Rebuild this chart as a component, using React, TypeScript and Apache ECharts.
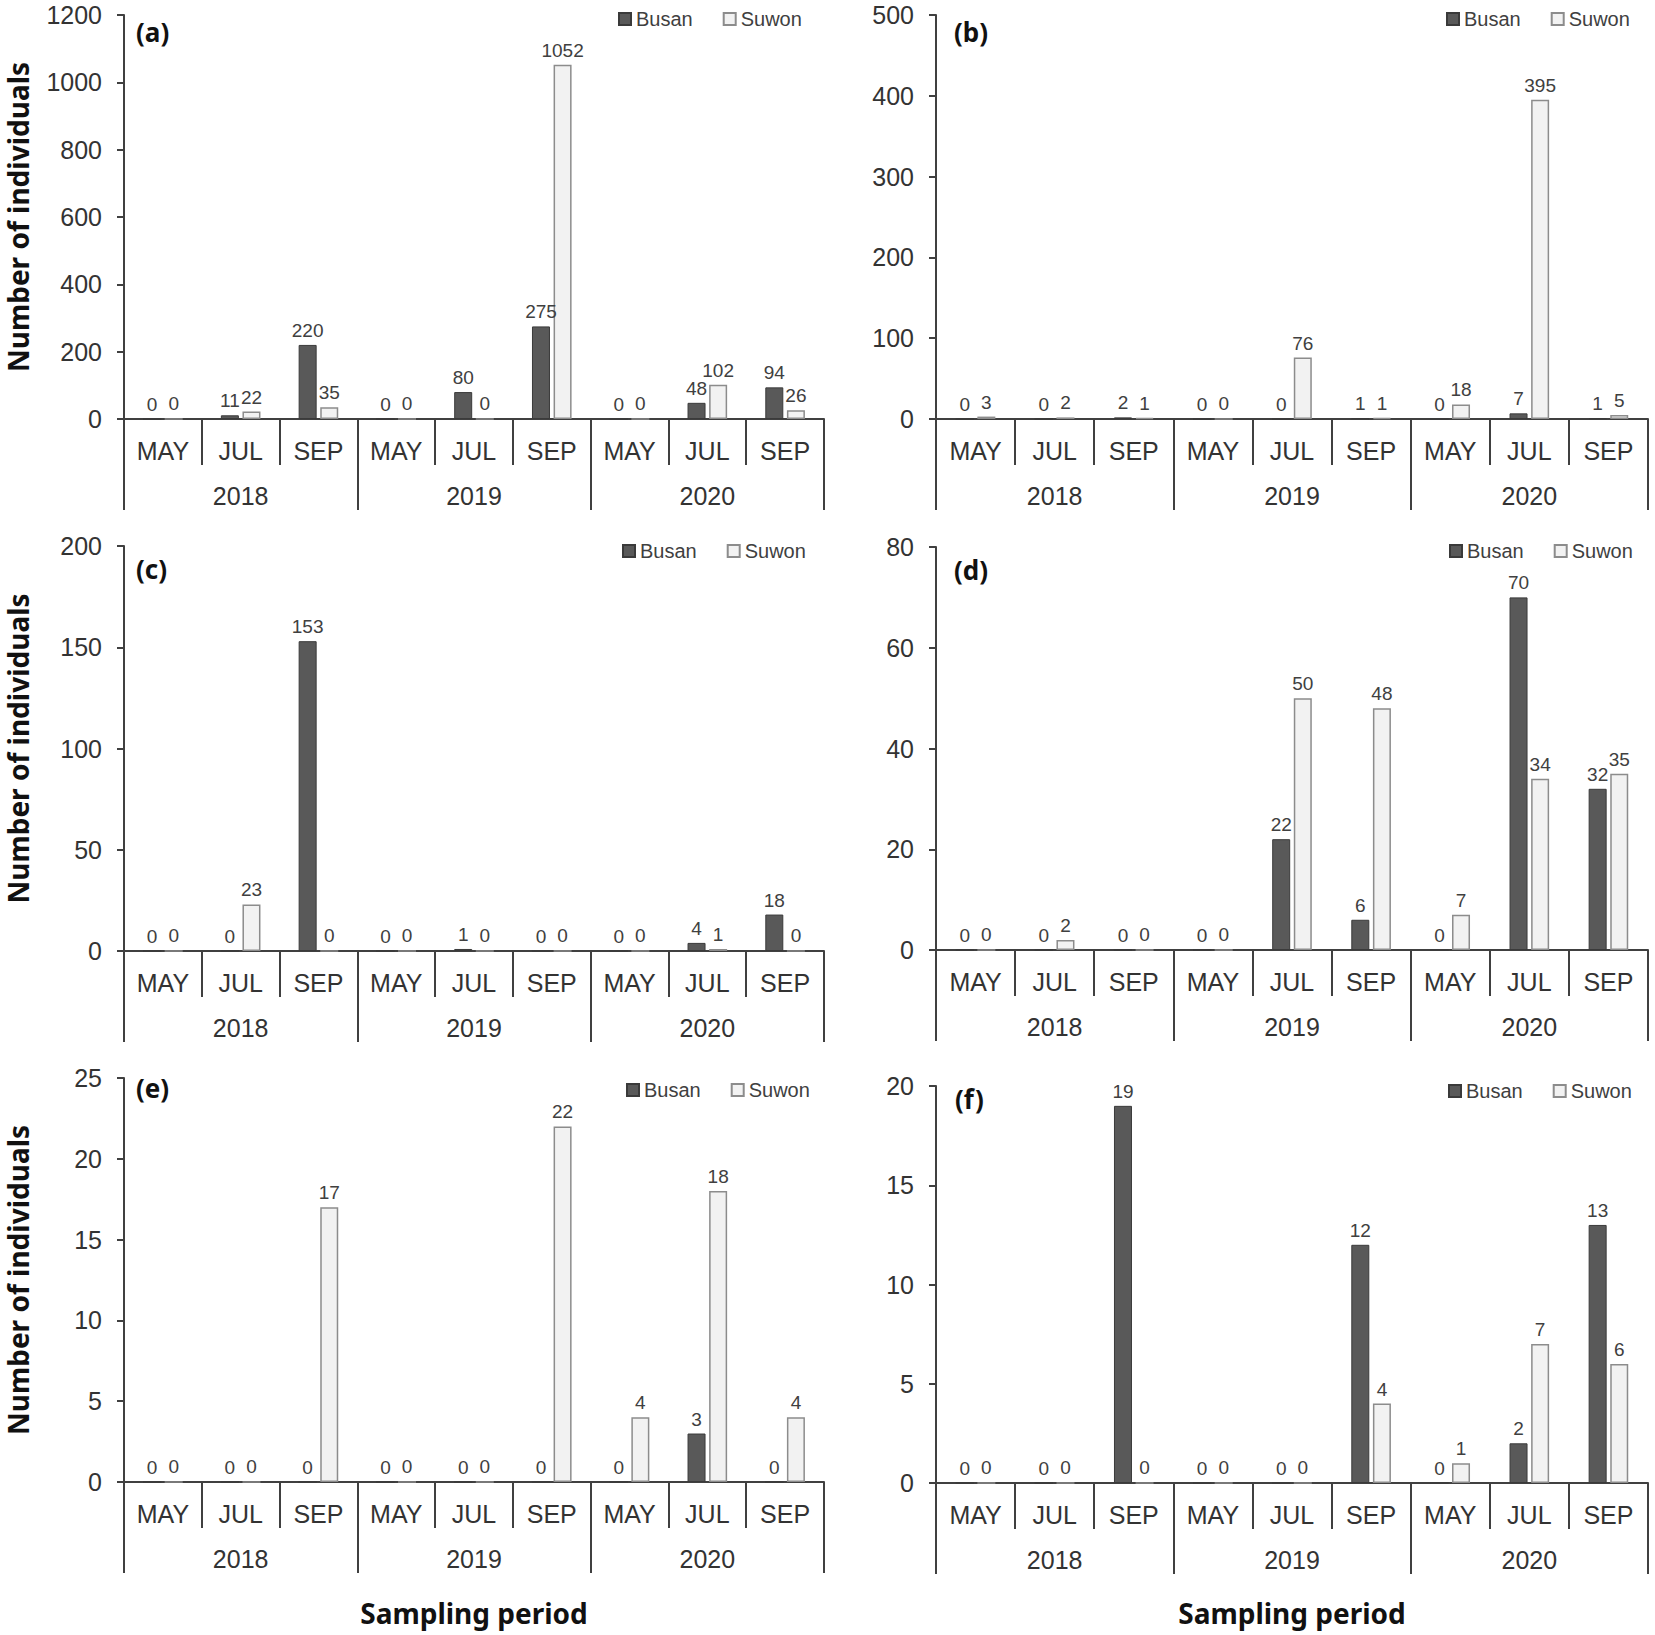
import { useEffect, useRef } from 'react';
import * as echarts from 'echarts';

// ---- data ----
const months = ['MAY', 'JUL', 'SEP', 'MAY', 'JUL', 'SEP', 'MAY', 'JUL', 'SEP'];
const years = ['2018', '2019', '2020'];
const seriesNames = ['Busan', 'Suwon'];
const panelLabels = ['(a)', '(b)', '(c)', '(d)', '(e)', '(f)'];
const yTitle = 'Number of individuals';
const xTitle = 'Sampling period';

const busanA = [0, 11, 220, 0, 80, 275, 0, 48, 94];
const suwonA = [0, 22, 35, 0, 0, 1052, 0, 102, 26];
const busanB = [0, 0, 2, 0, 0, 1, 0, 7, 1];
const suwonB = [3, 2, 1, 0, 76, 1, 18, 395, 5];
const busanC = [0, 0, 153, 0, 1, 0, 0, 4, 18];
const suwonC = [0, 23, 0, 0, 0, 0, 0, 1, 0];
const busanD = [0, 0, 0, 0, 22, 6, 0, 70, 32];
const suwonD = [0, 2, 0, 0, 50, 48, 7, 34, 35];
const busanE = [0, 0, 0, 0, 0, 0, 0, 3, 0];
const suwonE = [0, 0, 17, 0, 0, 22, 4, 18, 4];
const busanF = [0, 0, 19, 0, 0, 12, 0, 2, 13];
const suwonF = [0, 0, 0, 0, 0, 4, 1, 7, 6];

const yMax = [1200, 500, 200, 80, 25, 20];
const yStep = [200, 100, 50, 20, 5, 5];

const busanAll = [busanA, busanB, busanC, busanD, busanE, busanF];
const suwonAll = [suwonA, suwonB, suwonC, suwonD, suwonE, suwonF];

// ---- layout (pixels) ----
const grids = [
  { left: 124, top: 15, width: 700, height: 404 },
  { left: 936, top: 15, width: 712, height: 404 },
  { left: 124, top: 546, width: 700, height: 405 },
  { left: 936, top: 547, width: 712, height: 403 },
  { left: 124, top: 1078, width: 700, height: 404 },
  { left: 936, top: 1086, width: 712, height: 397 },
];
const labelPos = [
  { x: 136, y: 32 },
  { x: 954, y: 32 },
  { x: 136, y: 569 },
  { x: 954, y: 570 },
  { x: 136, y: 1088 },
  { x: 955, y: 1099 },
];
const legendPos = [
  { left: 618, cy: 19 },
  { left: 1446, cy: 19 },
  { left: 622, cy: 551 },
  { left: 1449, cy: 551 },
  { left: 626, cy: 1090 },
  { left: 1448, cy: 1091 },
];

const AXIS = '#404040';
const TXT = '#333333';
const SANS = 'Liberation Sans, Arial, sans-serif';
const BOLD = 'Noto Sans, Liberation Sans, sans-serif';

export default function App() {
  const ref = useRef<HTMLDivElement>(null);

  useEffect(() => {
    document.body.style.margin = '0';
    if (!ref.current) return;
    const chart = echarts.init(ref.current, undefined, { renderer: 'svg' });

    const xAxis: any[] = [];
    const yAxis: any[] = [];
    const series: any[] = [];
    const legend: any[] = [];
    const graphic: any[] = [];

    grids.forEach((g, i) => {
      const isLeft = i % 2 === 0;
      xAxis.push({
        type: 'category',
        gridIndex: i,
        data: months,
        position: 'bottom',
        axisLine: { show: true, onZero: true, lineStyle: { color: AXIS, width: 2 } },
        axisTick: { show: true, interval: 0, length: 46, lineStyle: { color: AXIS, width: 2 } },
        axisLabel: { interval: 0, margin: 19, fontSize: 25, color: TXT, fontFamily: SANS },
        splitLine: { show: false },
      });
      xAxis.push({
        type: 'category',
        gridIndex: i,
        data: years,
        position: 'bottom',
        axisLine: { show: false },
        axisTick: { show: true, interval: 0, length: 91, lineStyle: { color: AXIS, width: 2 } },
        axisLabel: { interval: 0, margin: 64, fontSize: 25, color: TXT, fontFamily: SANS },
        splitLine: { show: false },
      });
      yAxis.push({
        type: 'value',
        gridIndex: i,
        min: 0,
        max: yMax[i],
        interval: yStep[i],
        axisLine: { show: true, lineStyle: { color: AXIS, width: 2 } },
        axisTick: { show: true, length: 7, lineStyle: { color: AXIS, width: 2 } },
        axisLabel: {
          margin: 22,
          fontSize: 25,
          color: TXT,
          fontFamily: SANS,
          formatter: (v: number) => String(v),
        },
        splitLine: { show: false },
        name: isLeft ? yTitle : '',
        nameLocation: 'middle',
        nameGap: 92,
        nameTextStyle: { fontFamily: BOLD, fontWeight: 'bold', fontSize: 28, color: '#111' },
      });
      series.push({
        type: 'bar',
        name: seriesNames[0],
        xAxisIndex: 2 * i,
        yAxisIndex: i,
        data: busanAll[i],
        barWidth: 18,
        barGap: '20%',
        itemStyle: { color: '#595959', borderColor: '#3a3a3a', borderWidth: 1 },
        label: { show: true, position: 'top', distance: 5, fontSize: 19, color: '#404040', fontFamily: SANS },
      });
      series.push({
        type: 'bar',
        name: seriesNames[1],
        xAxisIndex: 2 * i,
        yAxisIndex: i,
        data: suwonAll[i],
        barWidth: 18,
        barGap: '20%',
        itemStyle: { color: '#f2f2f2', borderColor: '#8c8c8c', borderWidth: 1.5 },
        label: { show: true, position: 'top', distance: 5, fontSize: 19, color: '#404040', fontFamily: SANS },
      });
      legend.push({
        left: legendPos[i].left,
        top: legendPos[i].cy - 10,
        orient: 'horizontal',
        padding: 0,
        itemWidth: 12,
        itemHeight: 12,
        itemGap: 30,
        selectedMode: false,
        data: [
          { name: seriesNames[0], icon: 'rect' },
          { name: seriesNames[1], icon: 'rect' },
        ],
        textStyle: { fontSize: 20, color: '#404040', fontFamily: SANS },
      });
      graphic.push({
        type: 'text',
        x: labelPos[i].x,
        y: labelPos[i].y,
        style: {
          text: panelLabels[i],
          font: `bold 26px ${BOLD}`,
          fill: '#111',
          textVerticalAlign: 'middle',
          verticalAlign: 'middle',
        },
      });
    });

    [0, 1].forEach((c) => {
      const g = grids[c];
      graphic.push({
        type: 'text',
        x: g.left + g.width / 2,
        y: 1613,
        style: {
          text: xTitle,
          font: `bold 28px ${BOLD}`,
          fill: '#111',
          align: 'center',
          textAlign: 'center',
          verticalAlign: 'middle',
          textVerticalAlign: 'middle',
        },
      });
    });

    chart.setOption({
      animation: false,
      backgroundColor: '#ffffff',
      grid: grids.map((g) => ({ ...g, containLabel: false, outerBoundsMode: 'none' })),
      xAxis,
      yAxis,
      series,
      legend,
      graphic,
      tooltip: { show: false },
    });

    return () => chart.dispose();
  }, []);

  return <div ref={ref} style={{ width: 1655, height: 1635 }} />;
}
